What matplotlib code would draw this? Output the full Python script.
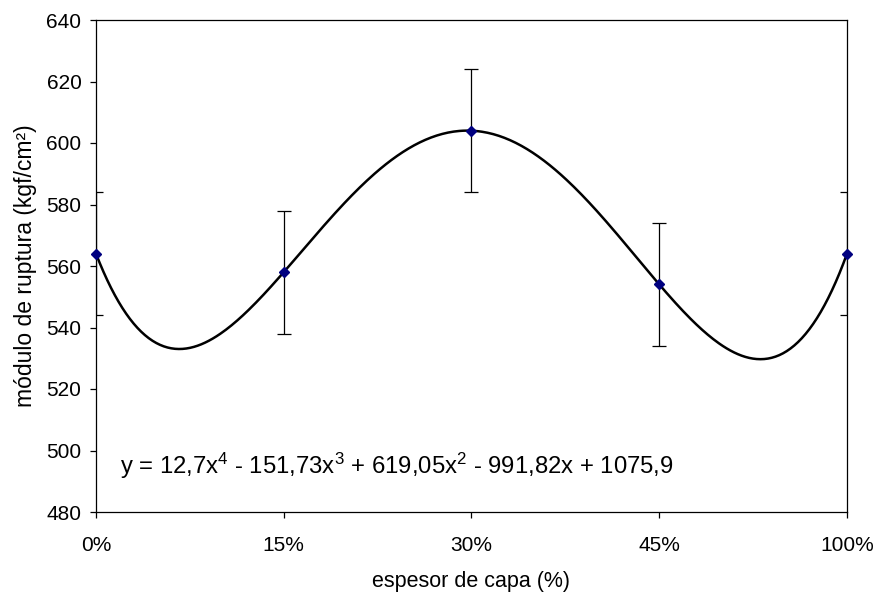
import numpy as np
import matplotlib
matplotlib.use("Agg")
import matplotlib.pyplot as plt

plt.rcParams['font.family'] = ['Liberation Sans', 'DejaVu Sans']
plt.rcParams['mathtext.fontset'] = 'custom'
plt.rcParams['mathtext.rm'] = 'Liberation Sans'
plt.rcParams['mathtext.it'] = 'Liberation Sans:italic'

categories = ['0%', '15%', '30%', '45%', '100%']
values = [564, 558, 604, 554, 564]
errors = [20, 20, 20, 20, 20]
equation = 'y = 12,7x$^{4}$ - 151,73x$^{3}$ + 619,05x$^{2}$ - 991,82x + 1075,9'

xpos = np.arange(1, len(categories) + 1)

fig = plt.figure(figsize=(8.78, 5.96), dpi=100)
ax = fig.add_axes([96/878, 1-512/596, (847-96)/878, (512-20)/596])

# polynomial trendline (order 4) fitted to the data
coef = np.polyfit(xpos, values, 4)
xs = np.linspace(1, 5, 400)
ax.plot(xs, np.polyval(coef, xs), color='black', lw=1.8, zorder=2)

ax.errorbar(xpos, values, yerr=errors, fmt='none', ecolor='black',
            elinewidth=0.9, capsize=5, capthick=0.9, zorder=3)
ax.plot(xpos, values, linestyle='none', marker='D', markersize=5.5,
        markerfacecolor='#000080', markeredgecolor='#000080', zorder=4,
        clip_on=False)

ax.set_xlim(1, 5)
ax.set_ylim(480, 640)
ax.set_xticks(xpos)
ax.set_xticklabels(categories)
ax.set_yticks(np.arange(480, 641, 20))
ax.tick_params(direction='out', length=4.5, width=0.9, labelsize=15)
ax.tick_params(axis='x', pad=13)
ax.tick_params(axis='y', pad=6)
for s in ax.spines.values():
    s.set_linewidth(0.9)

ax.set_xlabel('espesor de capa (%)', fontsize=15.5, labelpad=11)
ax.set_ylabel('módulo de ruptura (kgf/cm²)', fontsize=16.5, labelpad=7)

ax.text(1.13, 495, equation, fontsize=17.2, ha='left', va='center')

fig.savefig('out.png', dpi=100)
